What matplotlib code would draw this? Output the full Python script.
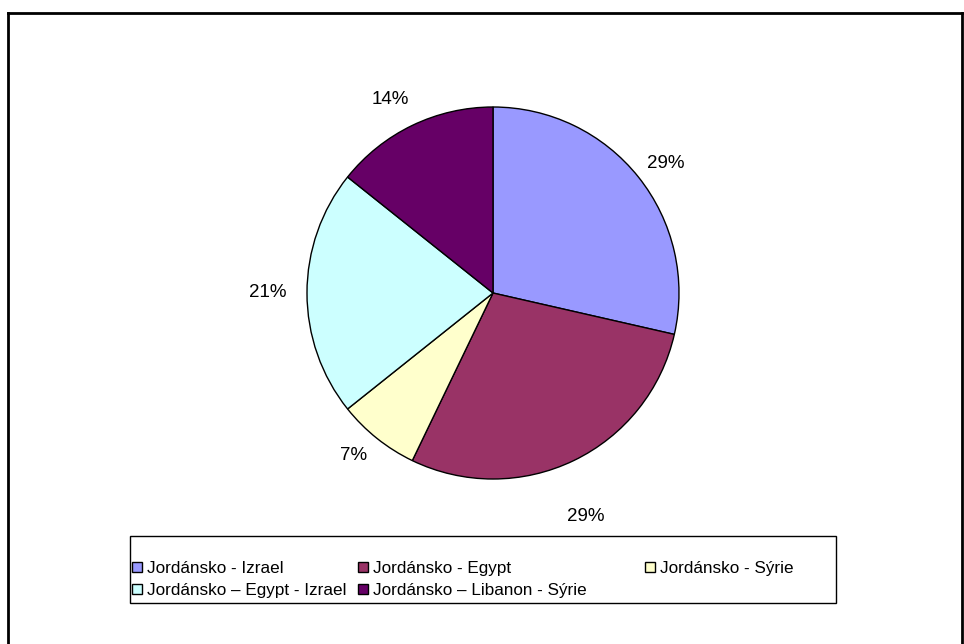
import matplotlib
matplotlib.use("Agg")
import matplotlib.pyplot as plt
from matplotlib.patches import Rectangle, Patch
from matplotlib.lines import Line2D
import numpy as np

plt.rcParams['font.family'] = ['Liberation Sans', 'DejaVu Sans']

categories = ["Jordánsko - Izrael", "Jordánsko - Egypt", "Jordánsko - Sýrie",
              "Jordánsko – Egypt - Izrael", "Jordánsko – Libanon - Sýrie"]
values = [4, 4, 1, 3, 2]
colors = ["#9999FF", "#993366", "#FFFFCC", "#CCFFFF", "#660066"]

# label placement styling (radius factor, angle offset in degrees)
label_dist = [1.16, 1.30, 1.15, 1.21, 1.18]
label_dang = [-1.7, -3.1, -2.0, 0.0, 2.3]

W, H = 964, 644
fig = plt.figure(figsize=(W / 100, H / 100), dpi=100)
fig.patch.set_facecolor("white")

def fx(x):
    return x / W

def fy(y):
    return 1 - y / H

# outer chart frame (bottom runs off the image)
frame_kw = dict(transform=fig.transFigure, color="black", lw=2, solid_capstyle="projecting")
fig.add_artist(Line2D([fx(8), fx(8)], [fy(13), fy(646)], **frame_kw))
fig.add_artist(Line2D([fx(8), fx(962)], [fy(13), fy(13)], **frame_kw))
fig.add_artist(Line2D([fx(962), fx(962)], [fy(13), fy(646)], **frame_kw))

cx, cy, r = 493, 293, 186
ax = fig.add_axes([fx(cx - r), fy(cy + r), 2 * r / W, 2 * r / H])
wedges, texts, autotexts = ax.pie(values, colors=colors, startangle=90, counterclock=False,
                                  autopct=lambda p: f"{p:.0f}%", pctdistance=1.2,
                                  wedgeprops=dict(edgecolor="black", linewidth=1),
                                  textprops=dict(fontsize=13.5, color="black"))
for w, t, d, da in zip(wedges, autotexts, label_dist, label_dang):
    ang = np.deg2rad((w.theta1 + w.theta2) / 2 + da)
    t.set_position((d * np.cos(ang), d * np.sin(ang)))
    t.set_ha("center")
    t.set_va("center")
ax.set_aspect("equal")
ax.set_xlim(-1, 1)
ax.set_ylim(-1, 1)

# legend box
fig.add_artist(Rectangle((fx(130), fy(603)), (836 - 130) / W, (603 - 536) / H,
                         transform=fig.transFigure, fill=False, edgecolor="black", lw=1))

# legend entries laid out row-wise in three columns
columns = [[0, 3], [1, 4], [2]]
col_x = [132, 358, 645]
for idx, x0 in zip(columns, col_x):
    handles = [Patch(facecolor=colors[i], edgecolor="black", lw=1) for i in idx]
    labels = [categories[i] for i in idx]
    fig.legend(handles, labels, ncol=1, loc="upper left",
               bbox_to_anchor=(fx(x0), fy(561)),
               fontsize=12.3, frameon=False,
               handlelength=0.57, handleheight=0.57, handletextpad=0.3,
               borderpad=0, labelspacing=0.4, borderaxespad=0)

fig.savefig("out.png", dpi=100)
